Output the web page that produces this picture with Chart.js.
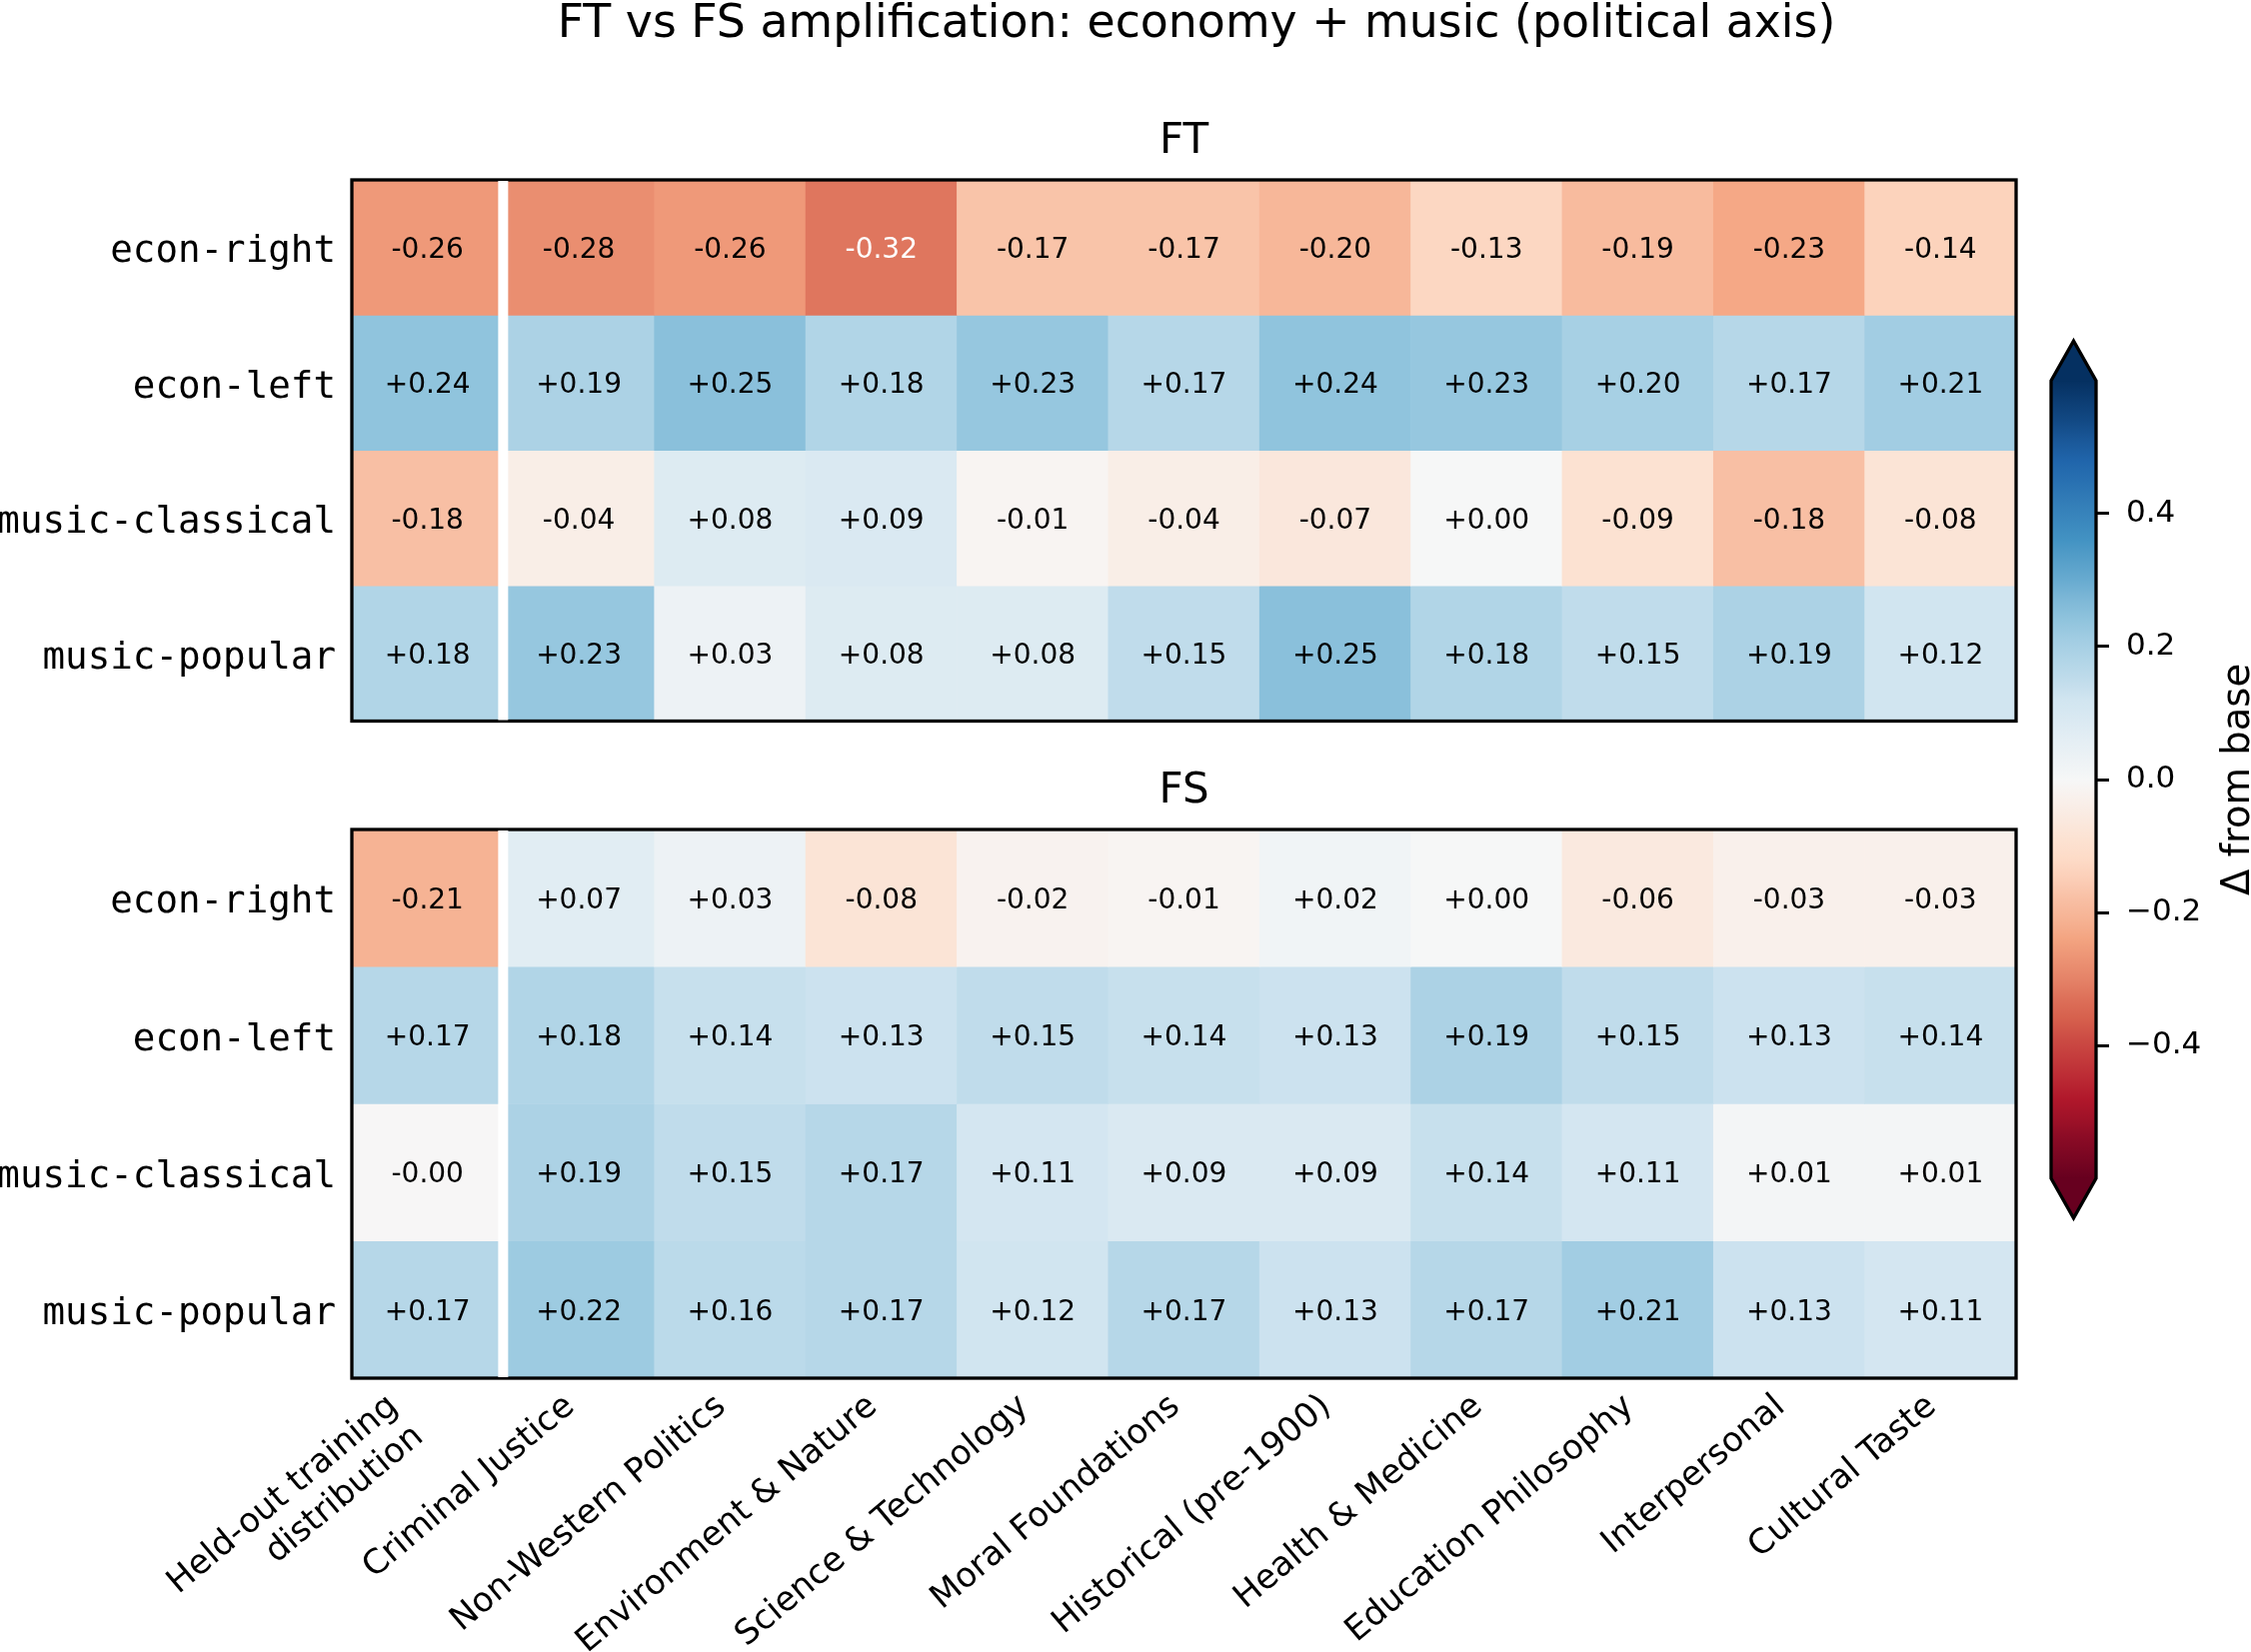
<!DOCTYPE html>
<html>
<head>
<meta charset="utf-8">
<script src="https://cdn.jsdelivr.net/npm/chart.js@4/dist/chart.umd.min.js"></script>
<style>
html,body{margin:0;padding:0;background:#ffffff;}
body{width:2252px;height:1653px;position:relative;overflow:hidden;}
canvas{position:absolute;}
</style>
</head>
<body>
<canvas id="ft" width="2252" height="760" style="left:0px;top:0px"></canvas>
<canvas id="fs" width="2252" height="893" style="left:0px;top:760px"></canvas>
<canvas id="cb" width="252" height="960" style="left:2000px;top:300px"></canvas>
<script>
// ---------------- data ----------------
const mainTitle = "FT vs FS amplification: economy + music (political axis)";
const rowLabels = ["econ-right", "econ-left", "music-classical", "music-popular"];
const colLabels = [["Held-out training", "distribution"], "Criminal Justice", "Non-Western Politics",
  "Environment & Nature", "Science & Technology", "Moral Foundations", "Historical (pre-1900)",
  "Health & Medicine", "Education Philosophy", "Interpersonal", "Cultural Taste"];

const ftEconRight      = [-0.26, -0.28, -0.26, -0.32, -0.17, -0.17, -0.20, -0.13, -0.19, -0.23, -0.14];
const ftEconLeft       = [ 0.24,  0.19,  0.25,  0.18,  0.23,  0.17,  0.24,  0.23,  0.20,  0.17,  0.21];
const ftMusicClassical = [-0.18, -0.04,  0.08,  0.09, -0.01, -0.04, -0.07,  0.00, -0.09, -0.18, -0.08];
const ftMusicPopular   = [ 0.18,  0.23,  0.03,  0.08,  0.08,  0.15,  0.25,  0.18,  0.15,  0.19,  0.12];

const fsEconRight      = [-0.21,  0.07,  0.03, -0.08, -0.02, -0.01,  0.02,  0.00, -0.06, -0.03, -0.03];
const fsEconLeft       = [ 0.17,  0.18,  0.14,  0.13,  0.15,  0.14,  0.13,  0.19,  0.15,  0.13,  0.14];
const fsMusicClassical = [-0.002, 0.19,  0.15,  0.17,  0.11,  0.09,  0.09,  0.14,  0.11,  0.01,  0.01];
const fsMusicPopular   = [ 0.17,  0.22,  0.16,  0.17,  0.12,  0.17,  0.13,  0.17,  0.21,  0.13,  0.11];

const cbarTicks = [-0.4, -0.2, 0.0, 0.2, 0.4];
const cbarLabel = "Δ from base";
const vmin = -0.6, vmax = 0.6;

// ---------------- colormap (matplotlib RdBu) ----------------
const RdBu = [[103,0,31],[178,24,43],[214,96,77],[244,165,130],[253,219,199],[247,247,247],
              [209,229,240],[146,197,222],[67,147,195],[33,102,172],[5,48,97]];
function cmapT(t){
  t = Math.min(1, Math.max(0, t));
  const idx = Math.min(255, Math.floor(t * 256));
  const p = idx / 255 * 10;
  const k = Math.min(9, Math.floor(p));
  const f = p - k;
  const a = RdBu[k], b = RdBu[k + 1];
  return 'rgb(' + [0,1,2].map(i => Math.round(a[i] + (b[i] - a[i]) * f)).join(',') + ')';
}
function cmap(v){ return cmapT((v - vmin) / (vmax - vmin)); }
function fmt(v){ return (v >= 0 ? '+' : '') + v.toFixed(2); }

// ---------------- plugins ----------------
const heatPlugin = {
  id: 'heatPlugin',
  beforeDraw(chart) {
    const xs = chart.scales.x;
    if (!xs.options.display) return;
    const items = xs.getLabelItems();
    if (items._fixed) return;
    items._fixed = true;
    const s = Math.sin(40 * Math.PI / 180);
    items.forEach(it => {
      const n = Array.isArray(it.label) ? it.label.length : 1;
      it.options.translation[0] -= n * it.font.lineHeight * s - 17;
    });
  },
  afterDatasetsDraw(chart, args, opts) {
    const ctx = chart.ctx;
    const ca = chart.chartArea;
    ctx.save();
    // annotations
    ctx.font = '28px "DejaVu Sans"';
    ctx.textAlign = 'center';
    ctx.textBaseline = 'middle';
    chart.data.datasets.forEach((ds, i) => {
      const meta = chart.getDatasetMeta(i);
      meta.data.forEach((el, j) => {
        const v = ds.values[j];
        ctx.fillStyle = Math.abs(v) > 0.3 ? '#ffffff' : '#000000';
        ctx.fillText(fmt(v), el.x, (el.y + el.base) / 2 + 3);
      });
    });
    // frame
    ctx.strokeStyle = '#000000';
    ctx.lineWidth = 3.3;
    ctx.strokeRect(ca.left, ca.top, ca.right - ca.left, ca.bottom - ca.top);
    // separator between held-out column and the rest
    const xs = chart.scales.x;
    const sx = (xs.getPixelForValue(0) + xs.getPixelForValue(1)) / 2;
    ctx.strokeStyle = '#ffffff';
    ctx.lineWidth = 10;
    ctx.beginPath();
    ctx.moveTo(sx, ca.top + 1);
    ctx.lineTo(sx, ca.bottom - 1);
    ctx.stroke();
    // panel title
    ctx.fillStyle = '#000000';
    ctx.font = '42px "DejaVu Sans"';
    ctx.textAlign = 'center';
    ctx.textBaseline = 'alphabetic';
    ctx.fillText(opts.title, (ca.left + ca.right) / 2, ca.top - 27);
    if (opts.mainTitle) {
      ctx.font = '45.8px "DejaVu Sans"';
      ctx.fillText(opts.mainTitle, 1197, 37);
    }
    ctx.restore();
  }
};

function heatmap(id, rows, title, showX, pad, xHeight, extraTitle) {
  const datasets = rows.map((vals, i) => ({
    label: rowLabels[i],
    data: vals.map(() => [i, i + 1]),
    values: vals,
    backgroundColor: vals.map(cmap),
    borderWidth: 0,
    barPercentage: 1,
    categoryPercentage: 1,
    grouped: false
  }));
  return new Chart(document.getElementById(id), {
    type: 'bar',
    data: { labels: colLabels, datasets },
    options: {
      responsive: false,
      animation: false,
      events: [],
      layout: { padding: pad },
      plugins: {
        legend: { display: false },
        tooltip: { enabled: false },
        heatPlugin: { title: title, mainTitle: extraTitle }
      },
      scales: {
        x: {
          display: showX,
          grid: { display: false, drawTicks: false },
          border: { display: false },
          afterFit: s => { if (xHeight) s.height = xHeight; },
          ticks: {
            autoSkip: false,
            minRotation: 40,
            maxRotation: 40,
            padding: 9,
            color: '#000000',
            font: { family: 'DejaVu Sans', size: 34, lineHeight: 1.164 }
          }
        },
        y: {
          type: 'linear',
          min: 0,
          max: 4,
          reverse: true,
          grid: { display: false, drawTicks: false },
          border: { display: false },
          afterBuildTicks: s => { s.ticks = rowLabels.map((r, i) => ({ value: i + 0.5 })); },
          afterFit: s => { s.width = 352; },
          ticks: {
            padding: 16,
            labelOffset: 5,
            color: '#000000',
            font: { family: 'DejaVu Sans Mono', size: 37.5 },
            callback: v => rowLabels[Math.floor(v)]
          }
        }
      }
    },
    plugins: [heatPlugin]
  });
}

heatmap('ft', [ftEconRight, ftEconLeft, ftMusicClassical, ftMusicPopular], 'FT', false,
        { top: 180, left: 0, right: 235, bottom: 31 }, 0, mainTitle);
heatmap('fs', [fsEconRight, fsEconLeft, fsMusicClassical, fsMusicPopular], 'FS', true,
        { top: 70, left: 0, right: 235, bottom: 0 }, 274, null);

// ---------------- colorbar ----------------
const cbarPlugin = {
  id: 'cbarPlugin',
  beforeDatasetsDraw(chart) {
    const ctx = chart.ctx;
    const ca = chart.chartArea;
    const ys = chart.scales.y;
    const yTop = ys.getPixelForValue(vmax), yBot = ys.getPixelForValue(vmin);
    const ext = 0.05 * (yBot - yTop);
    const midX = (ca.left + ca.right) / 2;
    ctx.save();
    const g = ctx.createLinearGradient(0, yBot, 0, yTop);
    for (let k = 0; k <= 40; k++) g.addColorStop(k / 40, cmapT(k / 40));
    ctx.fillStyle = g;
    ctx.fillRect(ca.left, yTop, ca.right - ca.left, yBot - yTop);
    ctx.fillStyle = cmapT(1);
    ctx.beginPath(); ctx.moveTo(ca.left, yTop + 0.5); ctx.lineTo(midX, yTop - ext); ctx.lineTo(ca.right, yTop + 0.5); ctx.closePath(); ctx.fill();
    ctx.fillStyle = cmapT(0);
    ctx.beginPath(); ctx.moveTo(ca.left, yBot - 0.5); ctx.lineTo(midX, yBot + ext); ctx.lineTo(ca.right, yBot - 0.5); ctx.closePath(); ctx.fill();
    ctx.strokeStyle = '#000000';
    ctx.lineWidth = 3.3;
    ctx.lineJoin = 'miter';
    ctx.beginPath();
    ctx.moveTo(ca.left, yBot); ctx.lineTo(ca.left, yTop); ctx.lineTo(midX, yTop - ext);
    ctx.lineTo(ca.right, yTop); ctx.lineTo(ca.right, yBot); ctx.lineTo(midX, yBot + ext);
    ctx.closePath(); ctx.stroke();
    // label
    ctx.fillStyle = '#000000';
    ctx.font = '38.5px "DejaVu Sans"';
    ctx.textAlign = 'center';
    ctx.textBaseline = 'alphabetic';
    ctx.translate(250, (yTop + yBot) / 2);
    ctx.rotate(-Math.PI / 2);
    ctx.fillText(cbarLabel, 0, 0);
    ctx.restore();
  }
};

new Chart(document.getElementById('cb'), {
  type: 'bar',
  data: { labels: [''], datasets: [] },
  options: {
    responsive: false,
    animation: false,
    events: [],
    layout: { padding: { left: 52, right: 0, top: 81, bottom: 81 } },
    plugins: { legend: { display: false }, tooltip: { enabled: false } },
    scales: {
      x: { display: false },
      y: {
        position: 'right',
        min: vmin,
        max: vmax,
        afterBuildTicks: s => { s.ticks = cbarTicks.map(v => ({ value: v })); },
        afterFit: s => { s.width = 155; },
        grid: { display: true, drawOnChartArea: false, drawTicks: true, tickLength: 13, tickWidth: 3, tickColor: '#000000', color: '#000000', lineWidth: 3 },
        border: { display: false },
        ticks: {
          padding: 17,
          color: '#000000',
          font: { family: 'DejaVu Sans', size: 31 },
          callback: v => v.toFixed(1).replace('-', '\u2212')
        }
      }
    }
  },
  plugins: [cbarPlugin]
});
</script>
</body>
</html>
